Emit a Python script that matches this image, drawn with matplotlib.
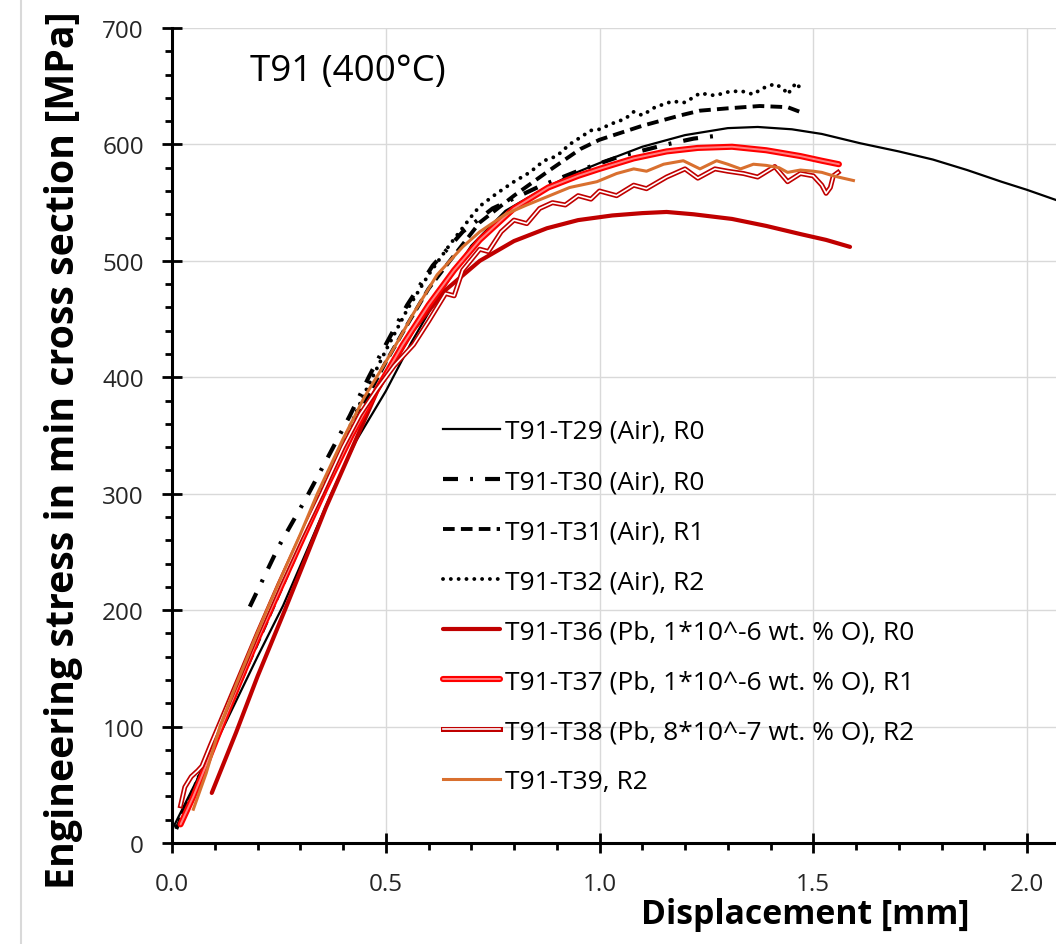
import numpy as np
import matplotlib
matplotlib.use("Agg")
import matplotlib.pyplot as plt
from matplotlib.ticker import MultipleLocator
import matplotlib.patheffects as pe
from matplotlib.lines import Line2D

plt.rcParams['font.family'] = ['Open Sans', 'DejaVu Sans']

# ---------------- data ----------------
t29_x = [0.005, 0.05, 0.10, 0.15, 0.20, 0.26, 0.32, 0.37, 0.43, 0.50, 0.56, 0.62, 0.70, 0.78,
         0.86, 0.94, 1.00, 1.10, 1.20, 1.30, 1.37, 1.45, 1.52, 1.61, 1.70, 1.78, 1.86, 1.94, 2.00, 2.07]
t29_y = [15, 48, 84, 122, 160, 204, 255, 298, 345, 388, 430, 468, 513, 543,
         560, 575, 584, 598, 608, 614, 615, 613, 609, 601, 594, 587, 578, 568, 561, 552]

t30_x = [0.182, 0.25, 0.315, 0.37, 0.416, 0.46, 0.494, 0.55, 0.61, 0.68, 0.75, 0.86, 0.955,
         1.05, 1.157, 1.22, 1.287]
t30_y = [203, 255, 297, 335, 367, 400, 424, 462, 496, 525, 545, 564, 578,
         590, 600, 605, 608]

t31_x = [0.01, 0.05, 0.10, 0.15, 0.20, 0.25, 0.30, 0.35, 0.40, 0.45, 0.50, 0.55, 0.60, 0.65,
         0.72, 0.80, 0.88, 0.955, 1.00, 1.10, 1.19, 1.235, 1.30, 1.375, 1.44, 1.476]
t31_y = [12, 45, 88, 130, 172, 214, 256, 297, 338, 378, 413, 445, 476, 500,
         533, 556, 577, 596, 604, 616, 625, 629, 631, 633, 632, 627]

t32_x = [0.01, 0.05, 0.10, 0.15, 0.20, 0.25, 0.30, 0.35, 0.40, 0.45, 0.50, 0.55, 0.60, 0.65,
         0.70, 0.72, 0.76, 0.80, 0.837, 0.87, 0.90, 0.93, 0.955, 0.98, 1.00, 1.03, 1.06, 1.08,
         1.10, 1.13, 1.17, 1.20, 1.235, 1.27, 1.30, 1.33, 1.36, 1.38, 1.41, 1.43, 1.44, 1.46,
         1.47, 1.48]
t32_y = [14, 46, 90, 132, 175, 218, 260, 302, 344, 386, 423, 458, 488, 514,
         538, 547, 558, 568, 576, 586, 590, 600, 606, 612, 613, 618, 622, 628,
         625, 632, 637, 636, 644, 642, 645, 646, 643, 648, 652, 648, 643, 653,
         648, 646]

t36_x = [0.093, 0.15, 0.20, 0.264, 0.31, 0.36, 0.42, 0.48, 0.565, 0.64, 0.72, 0.80, 0.877,
         0.95, 1.03, 1.10, 1.157, 1.22, 1.31, 1.39, 1.47, 1.53, 1.586]
t36_y = [43, 95, 143, 200, 242, 288, 338, 388, 441, 475, 500, 517, 528,
         535, 539, 541, 542, 540, 536, 530, 523, 518, 512]

t37_x = [0.02, 0.05, 0.08, 0.12, 0.16, 0.20, 0.24, 0.30, 0.36, 0.42, 0.48, 0.54, 0.60, 0.66,
         0.72, 0.80, 0.88, 0.95, 1.00, 1.08, 1.157, 1.23, 1.31, 1.39, 1.47, 1.52, 1.56]
t37_y = [16, 40, 67, 104, 140, 175, 208, 257, 305, 350, 390, 428, 462, 492,
         518, 545, 563, 573, 579, 588, 594, 597, 598, 595, 590, 586, 583]

t38_x = [0.02, 0.03, 0.045, 0.06, 0.07, 0.09, 0.12, 0.16, 0.20, 0.25, 0.30, 0.35, 0.40, 0.44,
         0.48, 0.52, 0.565, 0.60, 0.64, 0.66, 0.68, 0.72, 0.74, 0.77, 0.80, 0.83, 0.86, 0.89,
         0.92, 0.95, 0.98, 1.00, 1.04, 1.08, 1.11, 1.157, 1.20, 1.23, 1.27, 1.30, 1.337, 1.37,
         1.41, 1.44, 1.47, 1.50, 1.52, 1.53, 1.54, 1.547, 1.558]
t38_y = [32, 48, 57, 62, 66, 84, 110, 145, 180, 222, 262, 300, 340, 368,
         390, 410, 428, 448, 472, 470, 492, 510, 508, 525, 535, 532, 545, 550,
         548, 556, 553, 560, 556, 565, 562, 572, 579, 571, 579, 577, 575, 572,
         581, 568, 575, 573, 565, 558, 563, 573, 576]

t39_x = [0.05, 0.08, 0.112, 0.15, 0.19, 0.222, 0.26, 0.30, 0.34, 0.40, 0.45, 0.49, 0.53,
         0.565, 0.62, 0.68, 0.72, 0.78, 0.83, 0.877, 0.93, 0.994, 1.04, 1.08, 1.11, 1.15,
         1.196, 1.235, 1.274, 1.30, 1.33, 1.36, 1.39, 1.42, 1.44, 1.47, 1.50, 1.52, 1.547,
         1.57, 1.594]
t39_y = [29, 60, 100, 136, 172, 200, 232, 265, 300, 347, 383, 407, 432,
         455, 488, 512, 525, 540, 548, 555, 563, 568, 575, 579, 577, 583,
         586, 579, 586, 583, 579, 583, 582, 580, 576, 578, 577, 576, 573,
         571, 569]

labels = ["T91-T29 (Air), R0", "T91-T30 (Air), R0", "T91-T31 (Air), R1", "T91-T32 (Air), R2",
          "T91-T36 (Pb, 1*10^-6 wt. % O), R0", "T91-T37 (Pb, 1*10^-6 wt. % O), R1",
          "T91-T38 (Pb, 8*10^-7 wt. % O), R2", "T91-T39, R2"]

x_ticks = [0.0, 0.5, 1.0, 1.5, 2.0]
x_ticklabels = ["0.0", "0.5", "1.0", "1.5", "2.0"]
y_ticks = [0, 100, 200, 300, 400, 500, 600, 700]

# ---------------- figure ----------------
W, H = 1056, 945
fig = plt.figure(figsize=(W / 100, H / 100), dpi=100)
ax = fig.add_axes([172 / W, 1 - 844 / H, (W - 172) / W, (844 - 29) / H])
ax.set_xlim(0, (W - 172) / 427.5)
ax.set_ylim(0, 700)

# chart-area border line on the left (Excel frame)
fig.add_artist(Line2D([20.5 / W, 20.5 / W], [0, 1], transform=fig.transFigure,
                      color='#D9D9D9', lw=1.5))

ax.grid(True, which='major', color='#D9D9D9', lw=1.0)
ax.set_axisbelow(True)

dark_red = '#C00000'
ax.plot(t29_x, t29_y, color='black', lw=1.6, label=labels[0])
ax.plot(t30_x, t30_y, color='black', lw=3.0, linestyle=(0, (3.6, 2.9, 0.7, 2.9)),
        label=labels[1])
ax.plot(t31_x, t31_y, color='black', lw=2.8, linestyle=(0, (3.0, 1.6)), label=labels[2])
ax.plot(t32_x, t32_y, color='black', lw=2.8, linestyle=(0, (0.01, 2.0)),
        dash_capstyle='round', label=labels[3])
ax.plot(t36_x, t36_y, color=dark_red, lw=3.0, solid_capstyle='round', label=labels[4])
ax.plot(t37_x, t37_y, color='#FF8080', lw=1.4, solid_capstyle='round', label=labels[5],
        path_effects=[pe.Stroke(linewidth=4.4, foreground='#FF0000'), pe.Normal()])
ax.plot(t38_x, t38_y, color='white', lw=1.2, label=labels[6],
        path_effects=[pe.Stroke(linewidth=3.6, foreground=dark_red), pe.Normal()])
ax.plot(t39_x, t39_y, color='#D9702F', lw=2.2, label=labels[7])

# spines / ticks
for s in ['top', 'right']:
    ax.spines[s].set_visible(False)
for s in ['left', 'bottom']:
    ax.spines[s].set_linewidth(2.2)
    ax.spines[s].set_color('black')

ax.set_xticks(x_ticks)
ax.set_xticklabels(x_ticklabels)
ax.set_yticks(y_ticks)
ax.xaxis.set_minor_locator(MultipleLocator(0.1))
ax.yaxis.set_minor_locator(MultipleLocator(20))
ax.tick_params(which='major', direction='inout', length=14.4, width=2.0, labelsize=17.5,
               colors='black')
ax.tick_params(axis='x', which='major', pad=14)
ax.tick_params(axis='y', which='major', pad=13)
ax.tick_params(which='minor', direction='out', length=5, width=2.0)
for lab in ax.get_xticklabels() + ax.get_yticklabels():
    lab.set_color('#262626')

fig.text(64 / W, 1 - 450 / H, "Engineering stress in min cross section [MPa]",
         fontsize=28.3, fontweight='bold', rotation=90, ha='center', va='center')
ax.set_xlabel("Displacement [mm]", fontsize=24.3, fontweight='bold')
ax.xaxis.set_label_coords(0.716, -0.066)

ax.text(0.182, 663, "T91 (400°C)", fontsize=26.5, va='center', ha='left', color='black')

leg = ax.legend(loc='upper left', bbox_to_anchor=(443 / W, 1 - 420 / H),
                bbox_transform=fig.transFigure, frameon=False, fontsize=19,
                handlelength=2.16, handletextpad=0.19, labelspacing=0.95,
                borderaxespad=0, borderpad=0)

fig.savefig("out.png", dpi=100)
